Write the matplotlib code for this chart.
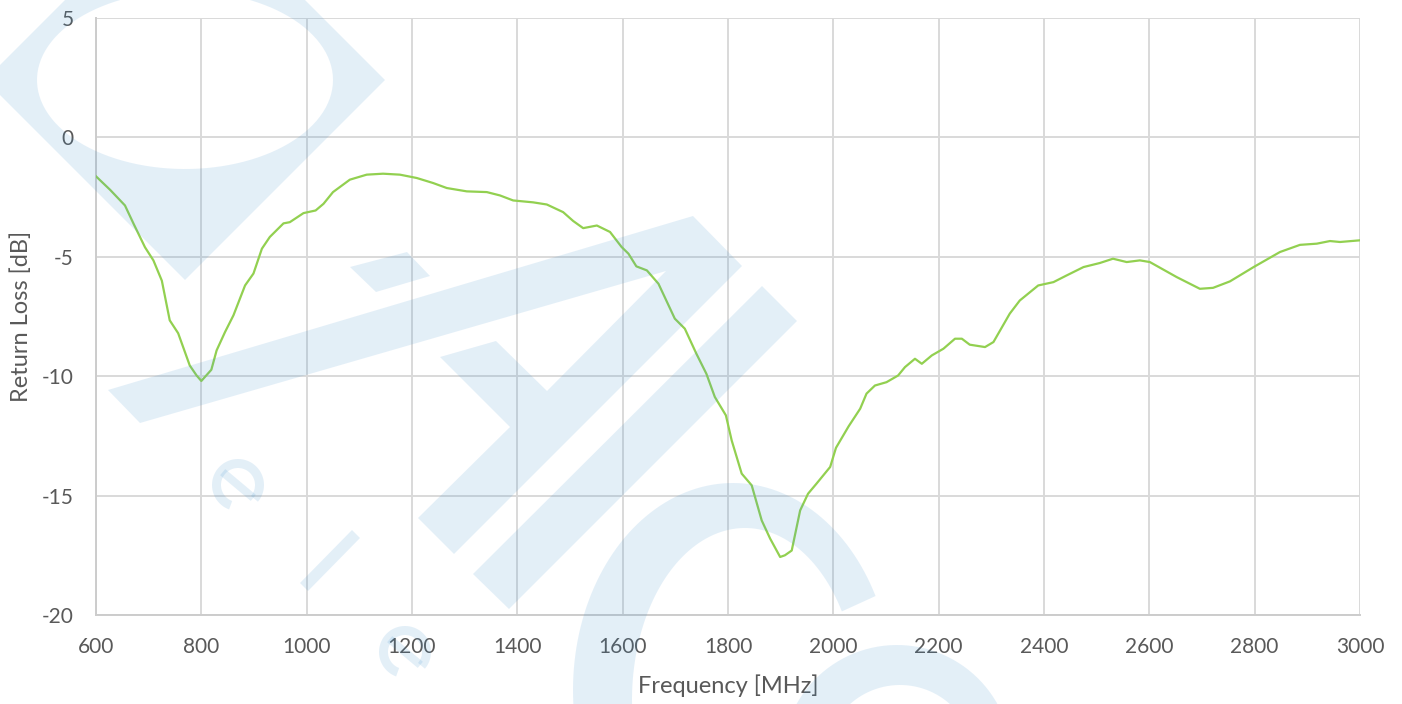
import numpy as np
import matplotlib.pyplot as plt
from matplotlib.patches import Polygon

plt.rcParams['font.family'] = ['Lato', 'DejaVu Sans']
plt.rcParams['axes.unicode_minus'] = False

# measured return loss
freq = [600, 627, 655, 671, 693, 709, 725, 740, 756, 778, 791, 800, 819, 829, 845,
        861, 883, 899, 915, 930, 956, 968, 994, 1017, 1032, 1050, 1082, 1114, 1145,
        1177, 1209, 1240, 1266, 1304, 1342, 1367, 1392, 1430, 1456, 1487, 1506, 1525,
        1551, 1576, 1598, 1611, 1626, 1646, 1668, 1699, 1718, 1740, 1759, 1775, 1796,
        1807, 1826, 1845, 1864, 1880, 1899, 1908, 1921, 1937, 1952, 1968, 1994, 2005,
        2029, 2051, 2063, 2079, 2101, 2123, 2136, 2155, 2168, 2187, 2209, 2231, 2244,
        2259, 2288, 2304, 2335, 2354, 2389, 2418, 2443, 2475, 2506, 2531, 2557, 2582,
        2601, 2652, 2696, 2721, 2753, 2798, 2848, 2886, 2918, 2943, 2962, 3000]
loss = [-1.63, -2.2, -2.85, -3.6, -4.6, -5.15, -6.0, -7.66, -8.2, -9.55, -9.97, -10.2,
        -9.73, -8.92, -8.15, -7.45, -6.2, -5.7, -4.66, -4.17, -3.6, -3.55, -3.17, -3.06,
        -2.78, -2.29, -1.77, -1.56, -1.52, -1.56, -1.7, -1.91, -2.12, -2.26, -2.29, -2.43,
        -2.64, -2.72, -2.81, -3.13, -3.5, -3.8, -3.69, -3.96, -4.59, -4.87, -5.4, -5.57,
        -6.13, -7.59, -8.01, -9.06, -9.9, -10.87, -11.64, -12.69, -14.08, -14.57, -16.04,
        -16.8, -17.57, -17.5, -17.3, -15.62, -14.92, -14.5, -13.8, -13.0, -12.1, -11.36,
        -10.73, -10.39, -10.25, -9.97, -9.62, -9.27, -9.48, -9.13, -8.85, -8.43, -8.43,
        -8.68, -8.78, -8.57, -7.38, -6.83, -6.2, -6.06, -5.78, -5.43, -5.26, -5.08, -5.22,
        -5.15, -5.22, -5.85, -6.34, -6.3, -6.03, -5.43, -4.8, -4.5, -4.45, -4.34, -4.38,
        -4.31]

xticks = list(range(600, 3001, 200))
yticks = list(range(-20, 6, 5))

W, H = 1402, 704
fig = plt.figure(figsize=(W / 100, H / 100), dpi=100)
ax = fig.add_axes([96 / W, 1 - 615 / H, (1360 - 96) / W, (615 - 18) / H])

ax.plot(freq, loss, color='#92d050', lw=1.6, zorder=3)
ax.set_xlim(600, 3000)
ax.set_ylim(-20, 5)
ax.set_xticks(xticks)
ax.set_yticks(yticks)
ax.grid(color='#d9d9d9', lw=1.4)
ax.set_axisbelow(True)
for s in ['top', 'right']:
    ax.spines[s].set_visible(False)
for s in ['left', 'bottom']:
    ax.spines[s].set_color('#cccccc')
    ax.spines[s].set_linewidth(1.4)
ax.tick_params(length=0, labelsize=15, labelcolor='#595959')
ax.tick_params(axis='y', pad=16)
ax.tick_params(axis='x', pad=16)
ax.set_xlabel('Frequency [MHz]', fontsize=17, color='#595959', labelpad=12)
ax.set_ylabel('Return Loss [dB]', fontsize=17, color='#595959', labelpad=7)

# light logo watermark, laid over the whole figure
WM = '#3c91cd'
ALPHA = 0.14


def to_fig(pts):
    return [(x / W, 1 - y / H) for x, y in pts]


def shape(pts):
    fig.add_artist(Polygon(to_fig(pts), closed=True, transform=fig.transFigure,
                           fc=WM, ec='none', alpha=ALPHA, zorder=10))


def arc(cx, cy, a, b, t0, t1, n=120):
    t = np.radians(np.linspace(t0, t1, n))
    return list(zip(cx + a * np.cos(t), cy - b * np.sin(t)))


# diamond with an elliptical hole (hole wound the other way)
square = [(385, 80), (185, 280), (-15, 80), (185, -120)]
hole = arc(185, 80, 148, 89, 0, 360)
shape(square + [square[0], hole[0]] + hole + [square[0]])

# long band joined to the diagonal stroke
shape([(108, 390), (693, 216), (742, 266), (454, 554), (418, 518), (510, 427),
       (440, 357), (496, 341), (547, 391), (666, 271), (140, 423)])
shape([(350, 267), (407, 252), (430, 276), (376, 292)])
shape([(762, 286), (797, 321), (509, 609), (473, 574)])
shape([(300, 583), (352, 530), (360, 538), (308, 591)])

# small rotated "e" marks
for cx, cy in [(238, 485), (405, 652)]:
    shape(arc(cx, cy, 26, 26, -40, 250) + arc(cx, cy, 17, 17, 250, -40))
    p = np.radians(140)
    q = np.radians(-40)
    d = np.array([np.cos(p + np.pi / 2), -np.sin(p + np.pi / 2)]) * 4
    a1 = np.array([cx + 20 * np.cos(p), cy - 20 * np.sin(p)])
    a2 = np.array([cx + 20 * np.cos(q), cy - 20 * np.sin(q)])
    shape([tuple(a1 + d), tuple(a2 + d), tuple(a2 - d), tuple(a1 - d)])

# large ring at the bottom and the smaller one to its right
shape(arc(733, 690, 160, 207, 27, 260) + arc(745, 700, 113, 172, 260, 31))
shape(arc(897, 760, 115, 115, 0, 360) + arc(900, 760, 75, 75, 360, 0))

fig.savefig('out.png', dpi=100, facecolor='white')
